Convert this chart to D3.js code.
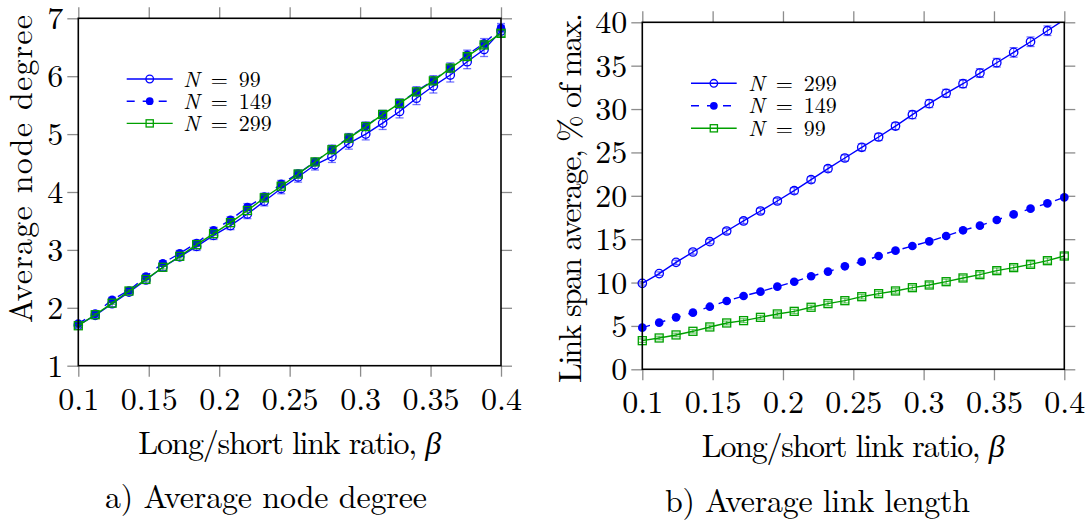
<!DOCTYPE html>
<html>
<head>
<meta charset="utf-8">
<script src="https://cdn.jsdelivr.net/npm/d3@7"></script>
<style>
  html, body { margin: 0; padding: 0; background: #fff; }
  svg { display: block; }
</style>
</head>
<body>
<svg id="chart" width="1089" height="523"></svg>
<script>
// ---------------- data ----------------
const beta = [0.100,0.112,0.124,0.136,0.148,0.160,0.172,0.184,0.196,0.208,0.220,0.232,0.244,
              0.256,0.268,0.280,0.292,0.304,0.316,0.328,0.340,0.352,0.364,0.376,0.388,0.400];
const xTicks = [0.1,0.15,0.2,0.25,0.3,0.35,0.4];
const xTickLabels = ["0.1","0.15","0.2","0.25","0.3","0.35","0.4"];

// panel a) average node degree
const degTicks = [1,2,3,4,5,6,7];
const deg99  = [1.70,1.87,2.07,2.27,2.48,2.70,2.88,3.06,3.25,3.42,3.62,3.84,4.06,4.26,4.47,4.61,4.84,5.00,5.19,5.39,5.62,5.83,6.02,6.25,6.46,6.78];
const deg99e = [0.04,0.04,0.05,0.05,0.05,0.06,0.06,0.07,0.07,0.07,0.08,0.08,0.09,0.09,0.09,0.10,0.10,0.10,0.11,0.11,0.11,0.12,0.12,0.12,0.12,0.10];
const deg149  = [1.73,1.90,2.14,2.30,2.54,2.77,2.94,3.12,3.34,3.52,3.74,3.92,4.14,4.32,4.52,4.74,4.94,5.14,5.34,5.53,5.74,5.93,6.15,6.37,6.57,6.83];
const deg149e = [0.03,0.03,0.04,0.04,0.04,0.04,0.05,0.05,0.05,0.05,0.06,0.06,0.06,0.06,0.06,0.07,0.07,0.07,0.07,0.08,0.08,0.08,0.08,0.08,0.08,0.08];
const deg299  = [1.69,1.88,2.08,2.29,2.49,2.70,2.89,3.09,3.28,3.47,3.68,3.90,4.10,4.31,4.52,4.73,4.93,5.13,5.34,5.53,5.73,5.92,6.14,6.34,6.54,6.74];
const deg299e = [0.02,0.02,0.02,0.02,0.03,0.03,0.03,0.03,0.03,0.03,0.03,0.04,0.04,0.04,0.04,0.04,0.04,0.04,0.04,0.05,0.05,0.05,0.05,0.05,0.05,0.05];

// panel b) average link length (% of max)
const spanTicks = [0,5,10,15,20,25,30,35,40];
const span299  = [9.91,11.03,12.33,13.52,14.71,15.94,17.10,18.25,19.40,20.59,21.86,23.13,24.36,25.59,26.78,28.04,29.35,30.62,31.81,32.92,34.15,35.34,36.53,37.76,39.03,40.30];
const span299e = [0.20,0.20,0.25,0.25,0.25,0.30,0.30,0.30,0.30,0.35,0.35,0.35,0.35,0.40,0.40,0.40,0.45,0.45,0.45,0.45,0.50,0.50,0.55,0.55,0.55,0.60];
const span149  = [4.80,5.38,5.99,6.53,7.22,7.88,8.45,8.95,9.53,10.10,10.72,11.26,11.87,12.41,13.06,13.68,14.21,14.75,15.37,16.02,16.56,17.21,17.86,18.52,19.13,19.82];
const span149e = [0.10,0.10,0.10,0.10,0.12,0.12,0.12,0.12,0.12,0.14,0.14,0.14,0.14,0.15,0.15,0.15,0.15,0.16,0.16,0.16,0.16,0.17,0.17,0.17,0.18,0.18];
const span99  = [3.30,3.61,3.96,4.38,4.88,5.34,5.61,5.99,6.38,6.68,7.15,7.57,7.91,8.37,8.72,9.03,9.41,9.72,10.10,10.53,10.91,11.37,11.72,12.10,12.52,13.06];
const span99e = [0.20,0.20,0.20,0.20,0.22,0.22,0.22,0.22,0.24,0.24,0.24,0.24,0.26,0.26,0.26,0.26,0.28,0.28,0.28,0.28,0.30,0.30,0.30,0.30,0.30,0.30];

// ---------------- styles ----------------
const BLUE = "#0000ff", GREEN = "#00a000", TICK = "#8c8c8c";
const FONT = 32;
const FAMILY = "'Latin Modern Roman', 'Liberation Serif', serif";

const svg = d3.select("#chart");
svg.append("rect").attr("width", 1089).attr("height", 523).attr("fill", "#fff");

function txt(sel) {
  return sel.style("font-family", FAMILY).style("fill", "#000");
}

function drawPanel(cfg) {
  const g = svg.append("g");
  const x = d3.scaleLinear().domain([0.1, 0.4]).range([cfg.left, cfg.right]);
  const y = d3.scaleLinear().domain(cfg.yDomain).range([cfg.bottom, cfg.top]);

  // ticks (gray, outward) on four sides
  const axB = g.append("g").attr("transform", `translate(0,${cfg.bottom})`)
    .call(d3.axisBottom(x).tickValues(xTicks).tickSize(11).tickFormat((d, i) => xTickLabels[i]));
  axB.selectAll("text").attr("y", 44).attr("dy", null).style("font-size", FONT + "px");
  const axT = g.append("g").attr("transform", `translate(0,${cfg.top})`)
    .call(d3.axisTop(x).tickValues(xTicks).tickSize(11).tickFormat(""));
  const axL = g.append("g").attr("transform", `translate(${cfg.left},0)`)
    .call(d3.axisLeft(y).tickValues(cfg.yTicks).tickSize(11).tickPadding(4).tickFormat(d3.format("d")));
  axL.selectAll("text").style("font-size", FONT + "px").attr("dy", "0.33em");
  const axR = g.append("g").attr("transform", `translate(${cfg.right},0)`)
    .call(d3.axisRight(y).tickValues(cfg.yTicks).tickSize(11).tickFormat(""));
  [axB, axT, axL, axR].forEach(a => {
    a.select(".domain").remove();
    a.selectAll("line").attr("stroke", TICK).attr("stroke-width", 1.3);
    txt(a.selectAll("text"));
  });

  // clip for lines
  const clipId = "clip" + cfg.id;
  svg.append("clipPath").attr("id", clipId).append("rect")
    .attr("x", cfg.left).attr("y", cfg.top)
    .attr("width", cfg.right - cfg.left).attr("height", cfg.bottom - cfg.top);

  const [y0, y1] = cfg.yDomain;
  cfg.series.forEach(s => {
    const pts = beta.map((b, i) => ({ b, v: s.values[i], e: s.errors[i] }));
    const sg = g.append("g");
    const line = d3.line().x(d => x(d.b)).y(d => y(d.v));
    sg.append("path").datum(pts).attr("d", line)
      .attr("fill", "none").attr("stroke", s.color).attr("stroke-width", 1.4)
      .attr("stroke-dasharray", s.dash || null)
      .attr("clip-path", `url(#${clipId})`);
    const inside = pts.filter(d => d.v >= y0 && d.v <= y1);
    // error bars
    const eb = sg.append("g").attr("stroke", s.color).attr("stroke-opacity", 0.55).attr("stroke-width", 1.3);
    inside.forEach(d => {
      eb.append("line").attr("x1", x(d.b)).attr("x2", x(d.b)).attr("y1", y(d.v - d.e)).attr("y2", y(d.v + d.e));
      eb.append("line").attr("x1", x(d.b) - 4).attr("x2", x(d.b) + 4).attr("y1", y(d.v - d.e)).attr("y2", y(d.v - d.e));
      eb.append("line").attr("x1", x(d.b) - 4).attr("x2", x(d.b) + 4).attr("y1", y(d.v + d.e)).attr("y2", y(d.v + d.e));
    });
    // markers
    inside.forEach(d => drawMarker(sg, s.marker, x(d.b), y(d.v), s.color));
  });

  // box
  g.append("rect").attr("x", cfg.left).attr("y", cfg.top)
    .attr("width", cfg.right - cfg.left).attr("height", cfg.bottom - cfg.top)
    .attr("fill", "none").attr("stroke", "#000").attr("stroke-width", 1.6);

  // legend
  cfg.series.forEach((s, i) => {
    const ly = cfg.legend.y + i * cfg.legend.dy;
    const lg = g.append("g");
    lg.append("line").attr("x1", cfg.legend.x1).attr("x2", cfg.legend.x2).attr("y1", ly).attr("y2", ly)
      .attr("stroke", s.color).attr("stroke-width", 1.4).attr("stroke-dasharray", s.dash || null);
    drawMarker(lg, s.marker, (cfg.legend.x1 + cfg.legend.x2) / 2, ly, s.color, 0.9);
    const t = txt(lg.append("text").attr("x", cfg.legend.tx).attr("y", ly + 7.5)
      .style("font-size", "22px").style("white-space", "pre"));
    t.append("tspan").style("font-style", "italic").text("N");
    t.append("tspan").text("\u2002=\u2002" + s.label);
  });

  // axis labels
  const xl = txt(g.append("text").attr("x", (cfg.left + cfg.right) / 2).attr("y", cfg.xLabelY)
    .attr("text-anchor", "middle").style("font-size", FONT + "px")
    .attr("textLength", 303).attr("lengthAdjust", "spacing"));
  xl.append("tspan").text("Long/short link ratio, ");
  xl.append("tspan").style("font-style", "italic")
    .style("font-family", "'Liberation Serif', serif").text("β");

  txt(g.append("text").attr("transform", `translate(${cfg.yLabel.x},${cfg.yLabel.y}) rotate(-90)`)
    .attr("text-anchor", "middle").style("font-size", FONT + "px")
    .attr("textLength", cfg.yLabel.len).attr("lengthAdjust", "spacing")
    .text(cfg.yLabel.text));

  txt(g.append("text").attr("x", cfg.caption.x).attr("y", cfg.caption.y)
    .attr("text-anchor", "middle").style("font-size", FONT + "px")
    .attr("textLength", cfg.caption.len).attr("lengthAdjust", "spacing")
    .text(cfg.caption.text));
}

function drawMarker(g, type, cx, cy, color, k = 1) {
  if (type === "circle") {
    g.append("circle").attr("cx", cx).attr("cy", cy).attr("r", 4.2 * k)
      .attr("fill", "none").attr("stroke", color).attr("stroke-width", 1.3);
  } else if (type === "dot") {
    g.append("circle").attr("cx", cx).attr("cy", cy).attr("r", 4.3 * k).attr("fill", color);
  } else {
    const s = 8 * k;
    g.append("rect").attr("x", cx - s / 2).attr("y", cy - s / 2).attr("width", s).attr("height", s)
      .attr("fill", "none").attr("stroke", color).attr("stroke-width", 1.3);
  }
}

drawPanel({
  id: "a", left: 78.3, right: 501, top: 18.3, bottom: 365.7,
  yDomain: [1, 7], yTicks: degTicks,
  series: [
    { label: "99",  values: deg99,  errors: deg99e,  color: BLUE,  marker: "circle" },
    { label: "149", values: deg149, errors: deg149e, color: BLUE,  marker: "dot", dash: "8,8" },
    { label: "299", values: deg299, errors: deg299e, color: GREEN, marker: "square" }
  ],
  legend: { x1: 126.7, x2: 172.7, tx: 183.3, y: 79, dy: 22.2 },
  xLabelY: 454,
  yLabel: { x: 32, y: 169, text: "Average node degree", len: 308 },
  caption: { x: 266, y: 508, text: "a) Average node degree", len: 322 }
});

drawPanel({
  id: "b", left: 642.3, right: 1064.3, top: 22.3, bottom: 369.3,
  yDomain: [0, 40], yTicks: spanTicks,
  series: [
    { label: "299", values: span299, errors: span299e, color: BLUE,  marker: "circle" },
    { label: "149", values: span149, errors: span149e, color: BLUE,  marker: "dot", dash: "8,8" },
    { label: "99",  values: span99,  errors: span99e,  color: GREEN, marker: "square" }
  ],
  legend: { x1: 691, x2: 736.7, tx: 748.3, y: 83.3, dy: 22.5 },
  xLabelY: 457,
  yLabel: { x: 581, y: 198, text: "Link span average, % of max.", len: 370 },
  caption: { x: 817.5, y: 512, text: "b) Average link length", len: 305 }
});
</script>
</body>
</html>
